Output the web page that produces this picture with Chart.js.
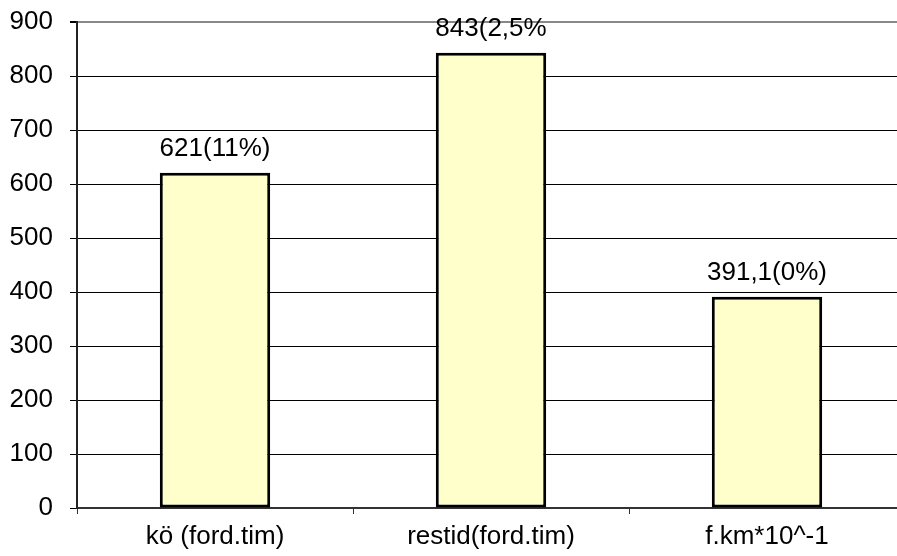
<!DOCTYPE html>
<html>
<head>
<meta charset="utf-8">
<script src="https://cdn.jsdelivr.net/npm/chart.js@4.4.1/dist/chart.umd.min.js"></script>
<style>
  html, body { margin: 0; padding: 0; background: #fff; overflow: hidden; }
  #wrap { width: 905px; height: 556px; }
</style>
</head>
<body>
<div id="wrap"><canvas id="c" width="905" height="556"></canvas></div>
<script>
// Categories and values
const categories = ['kö (ford.tim)', 'restid(ford.tim)', 'f.km*10^-1'];
const values = [621, 843, 391.1];
const valueLabels = ['621(11%)', '843(2,5%', '391,1(0%)'];
const yTicks = [0, 100, 200, 300, 400, 500, 600, 700, 800, 900];

const FONT = 'Liberation Sans, Arial, sans-serif';

// Text above each bar
const barLabels = {
  id: 'barLabels',
  afterDatasetsDraw(chart) {
    const ctx = chart.ctx;
    const meta = chart.getDatasetMeta(0);
    ctx.save();
    ctx.font = '26px ' + FONT;
    ctx.fillStyle = '#000';
    ctx.textAlign = 'center';
    ctx.textBaseline = 'alphabetic';
    meta.data.forEach((bar, i) => {
      ctx.fillText(valueLabels[i], bar.x, bar.y - 17);
    });
    ctx.restore();
  }
};

new Chart(document.getElementById('c'), {
  type: 'bar',
  data: {
    labels: categories,
    datasets: [{
      data: values,
      backgroundColor: '#FFFFCC',
      borderColor: '#000',
      borderWidth: 3,
      borderSkipped: false,
      categoryPercentage: 1.0,
      barPercentage: 0.4
    }]
  },
  options: {
    responsive: false,
    devicePixelRatio: 1,
    animation: false,
    layout: { padding: { top: 22, left: 0, right: 0, bottom: 0 } },
    plugins: { legend: { display: false }, tooltip: { enabled: false } },
    scales: {
      x: {
        grid: {
          offset: true,
          drawOnChartArea: false,
          drawTicks: true,
          tickLength: 6,
          tickColor: '#333',
          lineWidth: 1
        },
        border: { display: true, color: '#333', width: 2 },
        ticks: { color: '#000', font: { family: FONT, size: 26 }, padding: 7, maxRotation: 0 },
        afterFit(s) { s.height = 48; s.paddingLeft = 0; s.paddingRight = 0; }
      },
      y: {
        min: 0,
        max: 900,
        afterBuildTicks(s) { s.ticks = yTicks.map(v => ({ value: v })); },
        grid: {
          color: c => (c.tick && c.tick.value === 900) ? '#888' : (c.tick && c.tick.value === 0 ? '#333' : '#000'),
          lineWidth: c => (c.tick && c.tick.value === 900) ? 2 : 1,
          tickLength: 7,
          tickColor: '#000'
        },
        border: { display: true, color: '#222', width: 2 },
        ticks: { color: '#000', font: { family: FONT, size: 26 }, padding: 17 },
        afterFit(s) { s.width = 77; s.paddingTop = 0; s.paddingBottom = 0; }
      }
    }
  },
  plugins: [barLabels]
});
</script>
</body>
</html>
